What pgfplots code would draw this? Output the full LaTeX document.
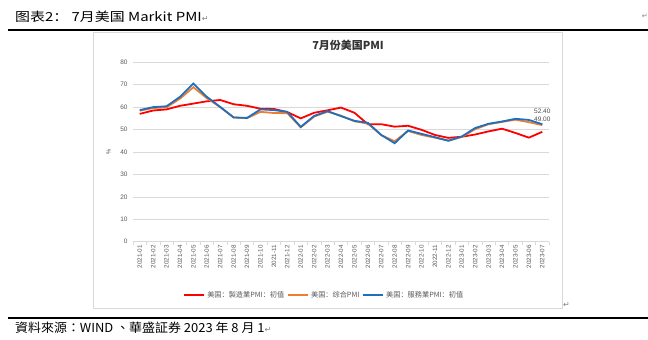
\documentclass[border=0pt]{standalone}
\usepackage{pgfplots}
\pgfplotsset{compat=1.18}
\usepackage{fontspec}
\setmainfont{Liberation Sans}
\newfontfamily\cjk{Noto Sans CJK SC}
\newfontfamily\cjktc{Noto Sans CJK TC}
\newfontfamily\dejavu{DejaVu Sans}
\definecolor{gridc}{HTML}{D9D9D9}
\definecolor{tickc}{HTML}{595959}
\definecolor{cred}{HTML}{FF0000}
\definecolor{corange}{HTML}{ED7D31}
\definecolor{cblue}{HTML}{1F6FBF}
\begin{document}
\begin{tikzpicture}
\path[use as bounding box] (0bp,0bp) rectangle (648bp,340bp);
% header
\node[anchor=west,inner sep=0] at (15bp,323.4bp) {\scalebox{1.2}[1]{\cjk\fontsize{12.5}{14}\selectfont 图表2： 7月美国 Markit PMI}{\color{gray}\dejavu\fontsize{8}{9}\selectfont ↵}};
\draw[line width=1.6bp] (8bp,310bp) -- (648bp,310bp);
\node[anchor=east,inner sep=0,text=gray] at (648bp,323.4bp) {\dejavu\fontsize{7}{8}\selectfont ↵};
% chart frame
\draw[gridc,line width=0.6bp] (93bp,308bp) rectangle (562bp,32bp);
\node[anchor=west,inner sep=0,text=gray] at (563bp,35bp) {\dejavu\fontsize{8}{9}\selectfont ↵};
% title
\node[text=black!80] at (348bp,295bp) {\cjk\bfseries\fontsize{11}{12}\selectfont 7月份美国PMI};
% footer
\draw[line width=2bp] (8bp,21.5bp) -- (648bp,21.5bp);
\node[anchor=west,inner sep=0] at (15bp,12bp) {\scalebox{1.04}[1]{\cjktc\fontsize{12.5}{14}\selectfont 資料來源：WIND 、華盛証券 2023 年 8 月 1}{\color{gray}\dejavu\fontsize{8}{9}\selectfont ↵}};
\begin{axis}[
  at={(133bp,98.3bp)}, anchor=south west,
  scale only axis, width=416bp, height=179.4bp,
  xmin=-0.5, xmax=30.5, ymin=0, ymax=80,
  ytick={0,10,...,80},
  xtick={0,...,30},
  xticklabels={2021-01,2021-02,2021-03,2021-04,2021-05,2021-06,2021-07,2021-08,2021-09,2021-10,2021-11,2021-12,2022-01,2022-02,2022-03,2022-04,2022-05,2022-06,2022-07,2022-08,2022-09,2022-10,2022-11,2022-12,2023-01,2023-02,2023-03,2023-04,2023-05,2023-06,2023-07},
  minor xtick={-0.5,0.5,...,30.5},
  xtick pos=bottom, ytick pos=left,
  major tick length=0pt, minor tick length=3bp,
  tick align=outside,
  minor tick style={gridc,line width=0.6bp},
  axis line style={draw=none},
  ymajorgrids, grid style={gridc,line width=0.6bp},
  /pgf/number format/assume math mode=true,
  ticklabel style={font=\fontsize{6.5}{7}\selectfont, text=tickc},
  xticklabel style={rotate=90, anchor=east, font=\fontsize{6.3}{7}\selectfont},
  yticklabel style={xshift=-2bp},
  ylabel={\%}, ylabel style={at={(axis description cs:-0.045,0.5)}, font=\fontsize{6}{7}\selectfont, text=tickc},
  legend style={at={(0.46,-0.297)}, anchor=center, legend columns=3, draw=none,
    font=\cjk\fontsize{7.2}{8}\selectfont, text=tickc, inner sep=1bp,
    /tikz/every even column/.append style={column sep=1bp}},
  legend image code/.code={\draw[#1,line width=1.8bp] (0bp,0bp) -- (20bp,0bp);},
  clip=false,
]
\addplot[cred, line width=1.8bp] coordinates {
(0,57.0) (1,58.5) (2,59.0) (3,60.6) (4,61.6) (5,62.6) (6,63.2) (7,61.3) (8,60.6) (9,59.3) (10,59.2)
(11,57.8) (12,55.0) (13,57.5) (14,58.6) (15,59.8) (16,57.5) (17,52.4) (18,52.4) (19,51.3) (20,51.7)
(21,49.9) (22,47.6) (23,46.3) (24,46.8) (25,47.8) (26,49.2) (27,50.4) (28,48.5) (29,46.4) (30,49.0)};
\addlegendentry{美国：製造業PMI：初值}
\addplot[corange, line width=1.8bp] coordinates {
(0,58.4) (1,59.6) (2,59.9) (3,63.8) (4,68.9) (5,64.0) (6,60.0) (7,55.4) (8,55.1) (9,57.9) (10,57.4)
(11,57.3) (12,51.0) (13,55.8) (14,58.0) (15,56.2) (16,53.7) (17,52.7) (18,47.5) (19,44.8) (20,49.4)
(21,47.6) (22,46.4) (23,45.1) (24,46.7) (25,50.2) (26,52.4) (27,53.4) (28,54.4) (29,53.3) (30,52.0)};
\addlegendentry{美国：综合PMI}
\addplot[cblue, line width=1.8bp] coordinates {
(0,58.7) (1,60.0) (2,60.4) (3,64.6) (4,70.5) (5,64.6) (6,60.1) (7,55.4) (8,55.2) (9,59.0) (10,58.7)
(11,57.9) (12,51.2) (13,56.1) (14,58.2) (15,56.0) (16,53.9) (17,53.0) (18,47.6) (19,43.9) (20,49.6)
(21,48.1) (22,46.6) (23,45.0) (24,46.9) (25,50.7) (26,52.6) (27,53.6) (28,54.8) (29,54.3) (30,52.4)};
\addlegendentry{美国：服務業PMI：初值}
\node[text=black!70, font=\fontsize{6.5}{7}\selectfont, inner sep=0] at (axis cs:30,58.0) {52.40};
\node[text=black!70, font=\fontsize{6.5}{7}\selectfont, inner sep=0] at (axis cs:30,54.8) {49.00};
\end{axis}
\end{tikzpicture}
\end{document}
